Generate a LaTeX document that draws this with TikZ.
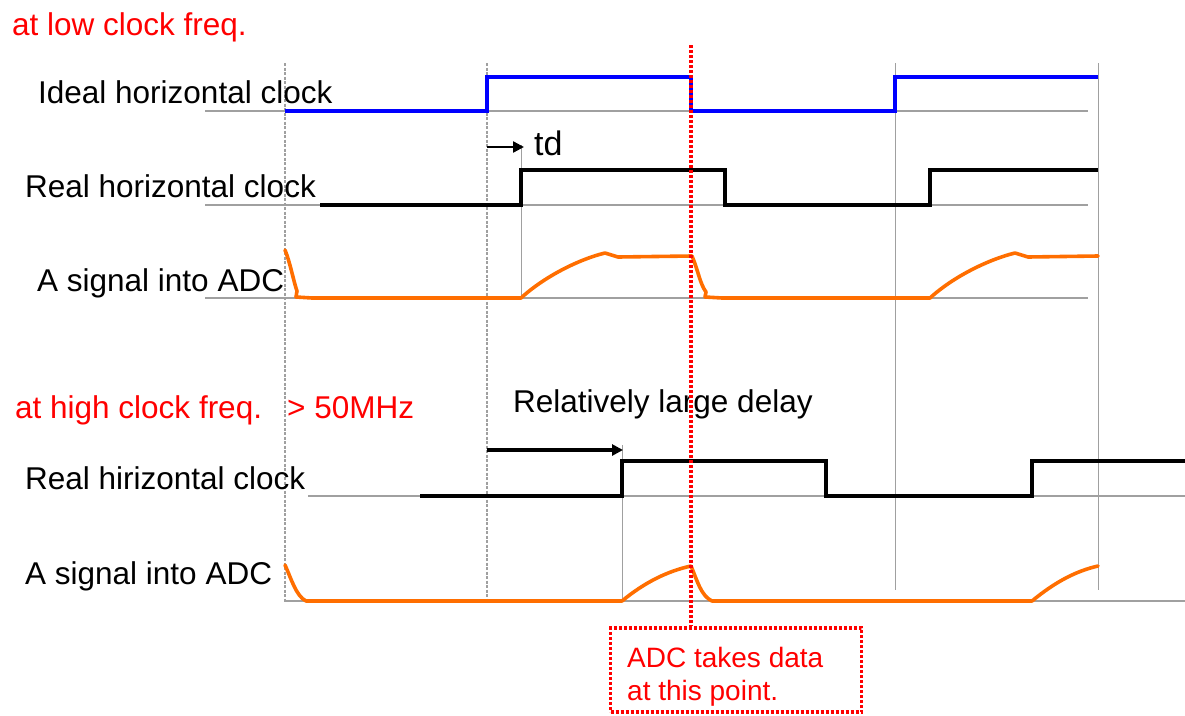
\documentclass[tikz,border=0pt]{standalone}
\usepackage{fontspec}
\setmainfont{Liberation Sans}
\usetikzlibrary{arrows.meta}
\definecolor{sigblue}{RGB}{0,0,255}
\definecolor{sigorange}{RGB}{255,110,0}
\definecolor{gridgray}{RGB}{160,160,160}
\definecolor{annred}{RGB}{255,0,0}
\begin{document}
\begin{tikzpicture}[x=1pt,y=-1pt,
  lbl/.style={anchor=base west,inner sep=0pt,font=\fontsize{31.5}{36}\selectfont},
  redlbl/.style={lbl,text=annred},
  baseln/.style={gridgray,line width=1.3pt},
  dvert/.style={gridgray,line width=1.5pt,dash pattern=on 3pt off 1.5pt},
  svert/.style={gridgray,line width=1pt},
  clkblue/.style={sigblue,line width=3.6pt,line join=miter},
  clkblack/.style={black,line width=3.6pt,line join=miter},
  sigline/.style={sigorange,line width=3.6pt,line join=round,line cap=round},
  delayarrow/.style={black,-{Triangle[length=11pt,width=11pt]}},
  reddot/.style={annred,line width=3.6pt,dash pattern=on 3pt off 2pt}]
\useasboundingbox (0,0) rectangle (1185,715);

% grid verticals
\draw[dvert] (285,63) -- (285,602);
\draw[dvert] (487,63) -- (487,602);
\draw[svert] (895,63) -- (895,590);
\draw[svert] (1098,63) -- (1098,590);
\draw[svert] (521,145) -- (521,298);
\draw[svert] (622,445) -- (622,601);

% baselines
\draw[baseln] (205,111) -- (1088,111);
\draw[baseln] (205,205) -- (1088,205);
\draw[baseln] (205,298) -- (1088,298);
\draw[baseln] (308,496) -- (1185,496);
\draw[baseln] (285,601) -- (1185,601);

% labels
\node[redlbl] (lowf) at (12,35) {at low clock freq.};
\node[lbl] (ideal) at (38,103) {Ideal horizontal clock};
\node[lbl] (real1) at (25,197) {Real horizontal clock};
\node[lbl] (adc1) at (37,291) {A signal into ADC};
\node[lbl,font=\fontsize{34}{38}\selectfont] (td) at (534,155) {td};
\node[redlbl] (highf) at (15,418) {at high clock freq.};
\node[redlbl] (mhz) at (287,418) {> 50MHz};
\node[lbl] (delay) at (513,412) {Relatively large delay};
\node[lbl] (real2) at (25,489) {Real hirizontal clock};
\node[lbl] (adc2) at (25,584) {A signal into ADC};

% ideal clock
\draw[clkblue] (285,111) -- (487,111) -- (487,77) -- (691,77) -- (691,111)
  -- (895,111) -- (895,77) -- (1098,77);

% real clock (low freq)
\draw[clkblack] (320,205) -- (521,205) -- (521,170) -- (725,170) -- (725,205)
  -- (930,205) -- (930,170) -- (1098,170);

% td arrow
\coordinate (tdA) at (487,147);
\coordinate (tdB) at (524,147);
\draw[delayarrow,line width=2.4pt] (tdA) -- (tdB);

% signal (low freq)
\draw[sigline] (285,250) .. controls (290,262) and (294,283) .. (297,291)
  -- (296,297) -- (312,298) -- (521,298)
  .. controls (545,276) and (580,259) .. (605,253) -- (618,257) -- (692,256)
  .. controls (698,270) and (700,284) .. (706,292) -- (705,297) -- (722,298) -- (930,298)
  .. controls (954,276) and (990,259) .. (1015,253) -- (1028,257) -- (1098,256);

% real clock (high freq)
\draw[clkblack] (420,496) -- (622,496) -- (622,461) -- (826,461) -- (826,496)
  -- (1032,496) -- (1032,461) -- (1185,461);

% large delay arrow
\coordinate (dlA) at (487,450);
\coordinate (dlB) at (623,450);
\draw[delayarrow,line width=3.6pt] (dlA) -- (dlB);

% signal (high freq)
\draw[sigline] (285,565) .. controls (291,578) and (296,596) .. (306,601)
  -- (622,601) .. controls (645,582) and (668,571) .. (691,566)
  .. controls (697,580) and (701,596) .. (712,601)
  -- (1032,601) .. controls (1055,582) and (1076,571) .. (1098,566);

% ADC sampling line and box
\node[draw=annred,line width=3.6pt,dash pattern=on 3pt off 2pt,minimum width=251pt,minimum height=84pt,inner sep=0pt]
  (adcbox) at (736,670) {};
\node[anchor=base west,inner sep=0pt,text=annred,font=\fontsize{28}{33}\selectfont]
  (adctxt1) at (627,667) {ADC takes data};
\node[anchor=base west,inner sep=0pt,text=annred,font=\fontsize{28}{33}\selectfont]
  (adctxt2) at (627,700) {at this point.};
\coordinate (samptop) at (691,45);
\draw[reddot] (samptop) -- (samptop |- adcbox.north);
\end{tikzpicture}
\end{document}
